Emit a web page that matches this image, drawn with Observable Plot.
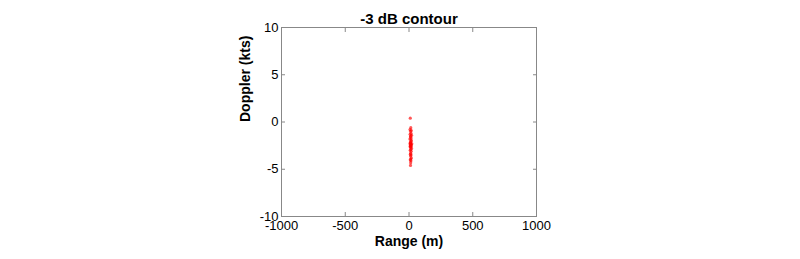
<!DOCTYPE html>
<html>
<head>
<meta charset="utf-8">
<script src="https://cdn.jsdelivr.net/npm/d3@7"></script>
<script src="https://cdn.jsdelivr.net/npm/@observablehq/plot@0.6"></script>
<style>
  html, body { margin: 0; padding: 0; background: #fff; }
  svg { font-family: Arial, "Liberation Sans", sans-serif; }
</style>
</head>
<body>
<div id="chart"></div>
<script>
const title = "-3 dB contour";
const xLabel = "Range (m)";
const yLabel = "Doppler (kts)";
const xTicks = [-1000, -500, 0, 500, 1000];
const yTicks = [-10, -5, 0, 5, 10];
// Points: range (m), doppler (kts)
const rangeM = [10, 14, 8, 18, 12, 16, 9, 20, 13, 11, 17, 7, 15, 19, 12, 10, 14, 22, 8, 16, 13, 11, 18, 9, 15, 12, 20, 14, 10, 17, 13, 11, 16, 12, 18, 14, 10, 15, 13, 12];
const dopplerKts = [0.4, -0.6, -0.8, -0.9, -1.0, -1.2, -1.3, -1.4, -1.5, -1.6, -1.7, -1.8, -1.9, -2.0, -2.1, -2.2, -2.2, -2.3, -2.3, -2.4, -2.4, -2.5, -2.5, -2.6, -2.6, -2.7, -2.8, -2.9, -3.0, -3.1, -3.3, -3.4, -3.5, -3.6, -3.8, -3.9, -4.0, -4.1, -4.3, -4.6];
const pts = rangeM.map((r, i) => ({range: r, doppler: dopplerKts[i]}));

const fmt = d => String(d);

const chart = Plot.plot({
  width: 800,
  height: 259,
  marginLeft: 281,
  marginRight: 264,
  marginTop: 27,
  marginBottom: 43,
  style: {fontFamily: "Arial, 'Liberation Sans', sans-serif", fontSize: "13px", color: "#000", background: "#fff"},
  x: {domain: [-1000, 1000], label: null},
  y: {domain: [-10, 10], label: null},
  marks: [
    Plot.frame({stroke: "#888"}),
    Plot.axisX(xTicks, {anchor: "bottom", tickSize: -4, stroke: "#888", tickFormat: () => ""}),
    Plot.axisX(xTicks, {anchor: "top", tickSize: -4, stroke: "#888", tickFormat: () => ""}),
    Plot.axisY(yTicks, {anchor: "left", tickSize: -4, stroke: "#888", tickFormat: () => ""}),
    Plot.axisY(yTicks, {anchor: "right", tickSize: -4, stroke: "#888", tickFormat: () => ""}),
    Plot.axisX(xTicks, {anchor: "bottom", tickSize: 0, tickPadding: 4, fontSize: 13, fill: "#000", label: null, tickFormat: fmt}),
    Plot.axisY(yTicks, {anchor: "left", tickSize: 0, tickPadding: 3, fontSize: 13, fill: "#000", label: null, tickFormat: fmt}),
    Plot.dot(pts, {x: "range", y: "doppler", r: 1.6, fill: "red", fillOpacity: 0.65, stroke: null}),
    Plot.text([title], {frameAnchor: "top", dy: -14, text: d => d, fontSize: 15, fontWeight: "bold", fill: "#000"}),
    Plot.text([xLabel], {frameAnchor: "bottom", dy: 29, text: d => d, fontSize: 14, fontWeight: "bold", fill: "#000"}),
    Plot.text([yLabel], {frameAnchor: "left", dx: -36, rotate: -90, text: d => d, fontSize: 14, fontWeight: "bold", fill: "#000"})
  ]
});
document.getElementById("chart").appendChild(chart);
</script>
</body>
</html>
